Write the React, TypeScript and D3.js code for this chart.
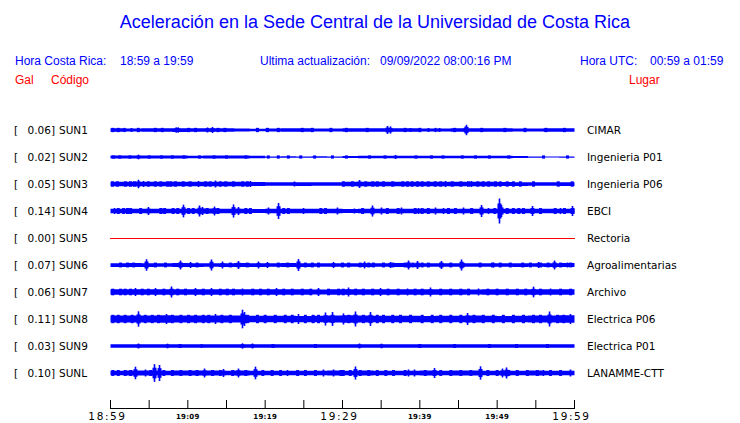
import React from "react";
import * as d3 from "d3";

// ---- data ----
const stationCodes = ["SUN1", "SUN2", "SUN3", "SUN4", "SUN5", "SUN6", "SUN7", "SUN8", "SUN9", "SUNL"];
const stationPlaces = ["CIMAR", "Ingenieria P01", "Ingenieria P06", "EBCI", "Rectoria", "Agroalimentarias", "Archivo", "Electrica P06", "Electrica P01", "LANAMME-CTT"];
const peakGal = [0.06, 0.02, 0.05, 0.14, 0.0, 0.07, 0.06, 0.11, 0.03, 0.1];

// envelope (half amplitude, Gal) every 2 minutes from 18:59
const envSUN1 = [0.020, 0.018, 0.019, 0.019, 0.021, 0.020, 0.020, 0.020, 0.016, 0.014, 0.018, 0.019, 0.019, 0.018, 0.018, 0.020, 0.020, 0.020, 0.020, 0.019, 0.018, 0.018, 0.020, 0.019, 0.019, 0.019, 0.018, 0.018, 0.019, 0.020, 0.020];
const envSUN2 = [0.017, 0.018, 0.016, 0.017, 0.017, 0.015, 0.017, 0.017, 0.016, 0.015, 0.007, 0.008, 0.007, 0.008, 0.007, 0.011, 0.014, 0.015, 0.014, 0.015, 0.015, 0.014, 0.015, 0.014, 0.014, 0.014, 0.011, 0.007, 0.006, 0.007, 0.006];
const envSUN3 = [0.025, 0.026, 0.024, 0.025, 0.025, 0.024, 0.025, 0.024, 0.025, 0.022, 0.020, 0.020, 0.021, 0.020, 0.020, 0.024, 0.025, 0.025, 0.024, 0.025, 0.024, 0.025, 0.024, 0.025, 0.024, 0.023, 0.021, 0.020, 0.020, 0.021, 0.020];
const envSUN4 = [0.026, 0.024, 0.025, 0.026, 0.024, 0.026, 0.027, 0.025, 0.024, 0.023, 0.025, 0.024, 0.026, 0.025, 0.024, 0.022, 0.025, 0.026, 0.025, 0.026, 0.024, 0.025, 0.026, 0.024, 0.025, 0.026, 0.024, 0.025, 0.024, 0.026, 0.026];
const envSUN5 = [0, 0, 0, 0, 0, 0, 0, 0, 0, 0, 0, 0, 0, 0, 0, 0, 0, 0, 0, 0, 0, 0, 0, 0, 0, 0, 0, 0, 0, 0, 0];
const envSUN6 = [0.021, 0.022, 0.021, 0.020, 0.022, 0.021, 0.020, 0.021, 0.022, 0.021, 0.020, 0.022, 0.021, 0.020, 0.019, 0.020, 0.021, 0.020, 0.022, 0.021, 0.020, 0.020, 0.019, 0.020, 0.020, 0.019, 0.021, 0.020, 0.021, 0.022, 0.021];
const envSUN7 = [0.031, 0.030, 0.032, 0.031, 0.032, 0.030, 0.031, 0.032, 0.030, 0.031, 0.030, 0.031, 0.030, 0.029, 0.030, 0.031, 0.030, 0.031, 0.032, 0.031, 0.030, 0.031, 0.030, 0.029, 0.030, 0.031, 0.032, 0.031, 0.030, 0.031, 0.031];
const envSUN8 = [0.039, 0.040, 0.039, 0.041, 0.039, 0.038, 0.039, 0.040, 0.039, 0.037, 0.036, 0.037, 0.035, 0.036, 0.039, 0.042, 0.040, 0.037, 0.036, 0.036, 0.035, 0.037, 0.036, 0.038, 0.036, 0.035, 0.036, 0.039, 0.040, 0.042, 0.041];
const envSUN9 = [0.020, 0.020, 0.019, 0.020, 0.020, 0.019, 0.020, 0.020, 0.019, 0.020, 0.020, 0.019, 0.020, 0.020, 0.019, 0.020, 0.020, 0.020, 0.019, 0.020, 0.020, 0.019, 0.020, 0.020, 0.019, 0.020, 0.020, 0.019, 0.020, 0.020, 0.020];
const envSUNL = [0.026, 0.027, 0.029, 0.026, 0.027, 0.028, 0.027, 0.026, 0.027, 0.025, 0.026, 0.025, 0.026, 0.025, 0.027, 0.026, 0.027, 0.026, 0.025, 0.026, 0.027, 0.026, 0.027, 0.028, 0.026, 0.025, 0.026, 0.027, 0.026, 0.025, 0.026];

// strong bursts: [minutes after 18:59, half amplitude in Gal]
const burstSUN1 = [[1.81, 0.024], [2.72, 0.022], [8.5, 0.030], [8.75, 0.030], [12.54, 0.028], [13.19, 0.034], [35.82, 0.045], [36.21, 0.040], [38.79, 0.022], [41.12, 0.022], [42.03, 0.024], [42.55, 0.022], [45.91, 0.040], [46.04, 0.058]];
const burstSUN2 = [[3.62, 0.026], [36.86, 0.022]];
const burstSUN3 = [[3.62, 0.048], [4.27, 0.034], [11.38, 0.034], [13.58, 0.039], [18.1, 0.034], [23.79, 0.028], [32.2, 0.045], [43.32, 0.034], [46.68, 0.034]];
const burstSUN4 = [[0.52, 0.034], [4.91, 0.045], [6.6, 0.034], [9.44, 0.071], [11.51, 0.062], [11.9, 0.045], [13.45, 0.05], [15.91, 0.073], [16.55, 0.045], [20.43, 0.039], [21.73, 0.09], [24.96, 0.034], [29.35, 0.039], [31.55, 0.028], [33.88, 0.062], [35.04, 0.039], [37.63, 0.039], [39.83, 0.034], [42.03, 0.039], [43.06, 0.034], [45.65, 0.039], [47.98, 0.067], [48.88, 0.034], [50.3, 0.14], [50.56, 0.067], [54.57, 0.056], [58.19, 0.034], [59.74, 0.056]];
const burstSUN5: number[][] = [];
const burstSUN6 = [[4.66, 0.065], [9.05, 0.05], [10.35, 0.034], [13.06, 0.062], [14.48, 0.039], [16.55, 0.045], [19.14, 0.039], [20.3, 0.034], [24.31, 0.067], [28.84, 0.034], [32.85, 0.039], [36.21, 0.034], [38.54, 0.05], [39.7, 0.045], [42.8, 0.045], [45.39, 0.062], [49.53, 0.028], [55.35, 0.034], [57.42, 0.05], [59.1, 0.028]];
const burstSUN7 = [[3.23, 0.045], [5.82, 0.045], [7.89, 0.062], [10.99, 0.045], [13.06, 0.045], [17.07, 0.039], [21.47, 0.045], [26.9, 0.045], [30.78, 0.05], [34.92, 0.045], [38.41, 0.039], [41.38, 0.05], [47.59, 0.039], [54.7, 0.06], [56.9, 0.039]];
const burstSUN8 = [[3.62, 0.086], [7.24, 0.056], [13.58, 0.056], [17.07, 0.104], [17.33, 0.078], [24.31, 0.056], [27.8, 0.073], [28.71, 0.078], [30.13, 0.062], [31.68, 0.084], [33.62, 0.078], [46.17, 0.067], [56.77, 0.084], [59.48, 0.056]];
const burstSUN9 = [[3.62, 0.028], [7.37, 0.026], [11.77, 0.022], [17.07, 0.03], [18.36, 0.028], [32.2, 0.028], [35.04, 0.026]];
const burstSUNL = [[3.23, 0.07], [4.53, 0.039], [5.69, 0.099], [6.34, 0.09], [12.16, 0.05], [14.61, 0.045], [16.55, 0.05], [18.75, 0.071], [22.89, 0.034], [27.54, 0.039], [28.84, 0.039], [31.68, 0.073], [38.54, 0.039], [39.31, 0.039], [41.9, 0.056], [47.85, 0.075], [50.69, 0.05], [51.21, 0.062], [55.99, 0.034], [59.48, 0.039]];

// small wave packets: minutes after 18:59 (one amplitude per station)
const rippleAmp = [0.024, 0.018, 0.030, 0.033, 0, 0.027, 0.037, 0.047, 0.022, 0.033];
const rippleSUN1 = [0.3, 1.0, 3.6, 5.8, 6.7, 10.1, 11.0, 13.9, 14.8, 19.0, 20.3, 21.7, 24.8, 26.1, 28.5, 30.5, 33.2, 38.1, 40.0, 44.5, 48.0, 51.0, 53.6, 56.3, 58.7];
const rippleSUN2 = [0.4, 1.2, 2.5, 5.0, 6.6, 8.0, 9.5, 11.5, 13.4, 15.0, 17.5, 20.4, 21.7, 23.0, 24.6, 26.4, 28.7, 30.5, 33.5, 35.5, 39.5, 41.5, 43.0, 45.5, 47.2, 49.0, 51.5, 56.0, 59.1];
const rippleSUN3 = [0.26, 0.9, 1.94, 2.59, 3.1, 4.9, 5.8, 6.5, 7.4, 7.8, 8.4, 9.4, 10.3, 12.3, 12.9, 14.2, 14.9, 15.9, 17.1, 17.7, 30.1, 31.3, 33.0, 33.9, 34.5, 35.3, 36.5, 37.8, 38.4, 39.0, 39.7, 40.3, 41.1, 42.0, 42.7, 44.2, 45.3, 46.3, 47.5, 48.2, 48.9, 49.8, 50.4, 51.3, 52.1, 53.0, 54.7, 57.9, 59.7];
const rippleSUN4 = [1.0, 1.7, 2.2, 2.6, 3.9, 6.5, 7.0, 8.1, 8.7, 10.1, 10.7, 12.5, 13.9, 17.5, 18.1, 22.4, 23.0, 27.2, 27.8, 32.6, 35.8, 37.2, 39.4, 40.3, 41.1, 43.7, 44.6, 46.7, 49.7, 51.3, 52.1, 52.8, 53.4, 55.6, 57.5, 58.7];
const rippleSUN5: number[] = [];
const rippleSUN6 = [1.3, 2.2, 3.0, 5.8, 7.1, 11.2, 15.5, 17.7, 21.7, 22.9, 25.2, 26.1, 26.9, 30.0, 30.8, 32.3, 33.4, 34.0, 35.3, 36.5, 38.1, 39.1, 40.3, 41.1, 42.7, 44.0, 45.6, 47.8, 49.4, 50.4, 51.7, 53.3, 54.3, 55.6, 56.6, 58.2, 59.5];
const rippleSUN7 = [0.3, 1.3, 1.9, 2.6, 4.1, 4.9, 6.9, 8.7, 9.7, 12.0, 14.2, 15.1, 15.9, 18.4, 19.4, 20.4, 22.4, 23.5, 24.8, 25.9, 28.2, 29.5, 30.1, 31.7, 32.7, 33.9, 35.9, 37.2, 39.4, 40.3, 42.7, 44.0, 45.3, 46.3, 48.8, 50.0, 51.3, 52.6, 53.7, 55.6, 58.2, 59.5];
const rippleSUN8 = [0.3, 1.0, 1.9, 2.8, 4.5, 5.4, 6.2, 8.0, 9.1, 10.1, 11.0, 12.0, 12.7, 14.4, 15.5, 17.7, 19.0, 20.0, 21.3, 22.6, 23.5, 25.2, 26.2, 26.9, 30.8, 32.7, 34.5, 35.3, 36.5, 37.5, 38.8, 40.3, 41.6, 42.7, 44.0, 45.3, 47.0, 48.2, 49.5, 50.8, 52.1, 53.4, 54.7, 55.6, 57.8, 58.6];
const rippleSUN9 = [9.0, 21.0, 26.5, 40.0, 44.5, 49.0, 52.5, 56.5];
const rippleSUNL = [0.3, 1.0, 1.9, 2.6, 5.2, 6.9, 8.0, 9.1, 10.3, 11.2, 13.2, 14.2, 15.8, 17.5, 19.7, 20.9, 22.0, 24.2, 25.2, 26.5, 29.8, 30.1, 31.0, 32.3, 33.4, 34.5, 35.6, 36.6, 38.1, 40.7, 42.7, 44.0, 45.3, 46.6, 48.8, 50.0, 51.5, 52.6, 53.9, 55.2, 56.9, 58.2];

const envelopes = [envSUN1, envSUN2, envSUN3, envSUN4, envSUN5, envSUN6, envSUN7, envSUN8, envSUN9, envSUNL];
const bursts = [burstSUN1, burstSUN2, burstSUN3, burstSUN4, burstSUN5, burstSUN6, burstSUN7, burstSUN8, burstSUN9, burstSUNL];
const ripples = [rippleSUN1, rippleSUN2, rippleSUN3, rippleSUN4, rippleSUN5, rippleSUN6, rippleSUN7, rippleSUN8, rippleSUN9, rippleSUNL];

const tickMinutes = [0, 5, 10, 15, 20, 25, 30, 35, 40, 45, 50, 55, 60];
const tickLabels = ["18:59", "", "19:09", "", "19:19", "", "19:29", "", "19:39", "", "19:49", "", "19:59"];
const majorTickLabels = ["18:59", "19:29", "19:59"];

const titleText = "Aceleración en la Sede Central de la Universidad de Costa Rica";

export default function App() {
  const W = 740, H = 423;
  const x = d3.scaleLinear().domain([0, 60]).range([110.5, 574.5]);
  const rows = d3.scaleBand<number>().domain(d3.range(10)).range([116.5, 386.5]);
  const amp = d3.scaleLinear().domain([0, 0.14]).range([0, 12.5]);
  const envStep = 2;

  const blue = "#0000ff";
  const red = "#ff0000";
  const sans = "'Liberation Sans', Arial, Helvetica, sans-serif";
  const dv = "'DejaVu Sans', sans-serif";

  return (
    <svg width={W} height={H} style={{ position: "absolute", left: 0, top: 0, background: "#fff" }}>
      <rect width={W} height={H} fill="#fff" />
      <text x={375} y={28} textAnchor="middle" fontFamily={sans} fontSize={18} fill={blue}>{titleText}</text>

      <g fontFamily={sans} fontSize={12} fill={blue}>
        <text x={15} y={65}>Hora Costa Rica:</text>
        <text x={120} y={65}>18:59 a 19:59</text>
        <text x={260} y={65}>Ultima actualización:</text>
        <text x={380} y={65}>09/09/2022 08:00:16 PM</text>
        <text x={580} y={65}>Hora UTC:</text>
        <text x={650} y={65}>00:59 a 01:59</text>
      </g>
      <g fontFamily={sans} fontSize={12} fill={red}>
        <text x={15} y={84}>Gal</text>
        <text x={51} y={84}>Código</text>
        <text x={629} y={84}>Lugar</text>
      </g>

      {stationCodes.map((code, i) => {
        const cy = (rows(i) as number) + rows.bandwidth() / 2;
        const env = envelopes[i];
        const isFlat = peakGal[i] === 0;
        const area = d3
          .area<number>()
          .x((_, k) => x(k * envStep))
          .y0((d) => cy - Math.max(0.5, amp(d)))
          .y1((d) => cy + Math.max(0.5, amp(d)))
          .curve(d3.curveStepAfter);
        const ra = amp(rippleAmp[i]);
        return (
          <g key={code}>
            <g fontFamily={dv} fontSize={10.5} fill="#000">
              <text x={14} y={cy + 4}>[</text>
              <text x={55} y={cy + 4} textAnchor="end">{peakGal[i].toFixed(2) + "]"}</text>
              <text x={59} y={cy + 4}>{code}</text>
              <text x={587} y={cy + 4}>{stationPlaces[i]}</text>
            </g>
            {isFlat ? (
              <line x1={x(0) - 0.5} x2={x(60) + 0.5} y1={cy + 0.5} y2={cy + 0.5} stroke={red} strokeWidth={1} />
            ) : (
              <g fill={blue}>
                <path d={area(env) || ""} />
                {ripples[i].map((t, j) => (
                  <rect key={"r" + j} x={x(t) - 1.5} width={3} y={cy - ra} height={2 * ra} />
                ))}
                {bursts[i].map(([t, a], j) => (
                  <g key={"b" + j}>
                    <rect x={x(t) - 2} width={4} y={cy - amp(a) * 0.6} height={amp(a) * 1.2} />
                    <rect x={x(t) - 0.8} width={1.6} y={cy - amp(a)} height={amp(a) * 2} />
                  </g>
                ))}
              </g>
            )}
          </g>
        );
      })}

      <g>
        <line x1={x(0) - 0.5} x2={x(60) + 0.5} y1={408.5} y2={408.5} stroke="#000" strokeWidth={1} />
        {tickMinutes.map((m, i) => (
          <g key={m}>
            <line x1={x(m)} x2={x(m)} y1={400} y2={408.5} stroke="#000" strokeWidth={1} />
            {tickLabels[i] !== "" && (majorTickLabels.includes(tickLabels[i]) ? (
              <text x={x(m) - 3} y={420} textAnchor="middle" fontFamily={dv} fontSize={10.5} letterSpacing={1.6} fill="#000">{tickLabels[i]}</text>
            ) : (
              <text x={x(m)} y={418.5} textAnchor="middle" fontFamily={dv} fontSize={7} letterSpacing={0.3} fontWeight="bold" fill="#000">{tickLabels[i]}</text>
            ))}
          </g>
        ))}
      </g>
    </svg>
  );
}
